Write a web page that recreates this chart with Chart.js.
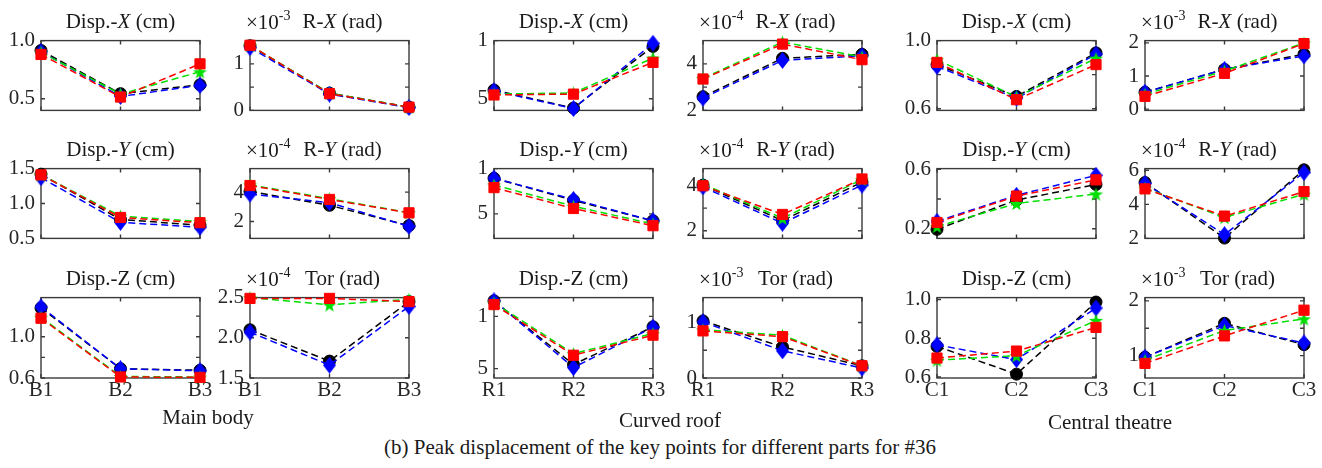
<!DOCTYPE html>
<html>
<head>
<meta charset="utf-8">
<script src="https://cdn.jsdelivr.net/npm/chart.js@4.4.1/dist/chart.umd.min.js"></script>
<style>
  body { margin: 0; width: 1322px; height: 468px; background: #fff; position: relative; overflow: hidden;
         font-family: "Liberation Serif", "Times New Roman", serif; color: #1a1a1a; }
  canvas { position: absolute; }
  .title, .group, .caption { position: absolute; white-space: nowrap; line-height: 1; transform: translate(-50%, -50%); }
  .title { font-size: 21px; }
  .exp { position: absolute; white-space: nowrap; line-height: 1; font-size: 21px; transform: translateY(-50%); }
  .exp sup { font-size: 14px; position: relative; top: -1px; }
  .group { font-size: 21px; }
  .caption { font-size: 21px; }
</style>
</head>
<body>
<script>
// x categories per part
const bodyLabels = ["B1", "B2", "B3"];
const roofLabels = ["R1", "R2", "R3"];
const theatreLabels = ["C1", "C2", "C3"];
const groupNames = ["Main body", "Curved roof", "Central theatre"];
const caption = "(b) Peak displacement of the key points for different parts for #36";

// every panel: [black circle, blue diamond, green star, red square]
const bodyDispX = [[0.915, 0.544, 0.62], [0.905, 0.52, 0.615], [0.90, 0.54, 0.732], [0.881, 0.515, 0.80]];
const bodyRX    = [[1.39, 0.37, 0.07], [1.35, 0.35, 0.06], [1.40, 0.37, 0.07], [1.40, 0.36, 0.07]];
const bodyDispY = [[1.42, 0.77, 0.69], [1.37, 0.73, 0.66], [1.41, 0.82, 0.74], [1.41, 0.80, 0.725]];
const bodyRY    = [[4.05, 3.10, 1.72], [3.87, 3.28, 1.67], [4.50, 3.55, 2.60], [4.45, 3.50, 2.59]];
const bodyDispZ = [[1.28, 0.69, 0.675], [1.29, 0.69, 0.67], [1.19, 0.615, 0.61], [1.18, 0.61, 0.606]];
const bodyTor   = [[2.10, 1.71, 2.45], [2.07, 1.66, 2.39], [2.50, 2.41, 2.48], [2.49, 2.49, 2.45]];

const roofDispX = [[0.575, 0.42, 0.95], [0.568, 0.416, 0.977], [0.54, 0.55, 0.85], [0.533, 0.54, 0.813]];
const roofRX    = [[2.59, 4.24, 4.41], [2.53, 4.15, 4.35], [3.38, 4.94, 4.30], [3.35, 4.85, 4.18]];
const roofDispY = [[0.894, 0.65, 0.424], [0.894, 0.66, 0.424], [0.82, 0.585, 0.39], [0.79, 0.56, 0.37]];
const roofRY    = [[4.02, 2.45, 4.15], [3.94, 2.33, 4.02], [4.06, 2.55, 4.27], [3.99, 2.72, 4.29]];
const roofDispZ = [[1.149, 0.539, 0.90], [1.149, 0.51, 0.896], [1.13, 0.643, 0.836], [1.113, 0.628, 0.82]];
const roofTor   = [[1.03, 0.56, 0.22], [1.01, 0.49, 0.18], [0.87, 0.77, 0.22], [0.85, 0.746, 0.22]];

const theatreDispX = [[0.859, 0.672, 0.928], [0.848, 0.661, 0.92], [0.888, 0.669, 0.896], [0.872, 0.653, 0.859]];
const theatreRX    = [[0.51, 1.20, 1.66], [0.51, 1.20, 1.61], [0.45, 1.15, 2.00], [0.385, 1.08, 1.98]];
const theatreDispY = [[0.196, 0.393, 0.498], [0.25, 0.425, 0.56], [0.215, 0.37, 0.434], [0.242, 0.42, 0.529]];
const theatreRY    = [[5.28, 2.02, 6.03], [5.23, 2.22, 5.87], [4.96, 3.23, 4.60], [4.91, 3.31, 4.75]];
const theatreDispZ = [[0.758, 0.615, 0.987], [0.766, 0.69, 0.956], [0.687, 0.71, 0.892], [0.698, 0.734, 0.856]];
const theatreTor   = [[0.97, 1.59, 1.20], [0.97, 1.55, 1.23], [0.914, 1.46, 1.67], [0.857, 1.36, 1.83]];

// panels row by row, left to right
const panelData = [
  bodyDispX, bodyRX, roofDispX, roofRX, theatreDispX, theatreRX,
  bodyDispY, bodyRY, roofDispY, roofRY, theatreDispY, theatreRY,
  bodyDispZ, bodyTor, roofDispZ, roofTor, theatreDispZ, theatreTor
];
const panelTitles = [
  "Disp.-<i>X</i> (cm)", "R-<i>X</i> (rad)", "Disp.-<i>X</i> (cm)", "R-<i>X</i> (rad)", "Disp.-<i>X</i> (cm)", "R-<i>X</i> (rad)",
  "Disp.-<i>Y</i> (cm)", "R-<i>Y</i> (rad)", "Disp.-<i>Y</i> (cm)", "R-<i>Y</i> (rad)", "Disp.-<i>Y</i> (cm)", "R-<i>Y</i> (rad)",
  "Disp.-Z (cm)", "Tor (rad)", "Disp.-Z (cm)", "Tor (rad)", "Disp.-Z (cm)", "Tor (rad)"
];
const panelExp = ["", "-3", "", "-4", "", "-3",
                  "", "-4", "", "-4", "", "-4",
                  "", "-4", "", "-3", "", "-3"];
const yMin = [0.4, 0, 0.4, 2, 0.59, -0.04,
              0.5, 0.85, 0.23, 1.66, 0.135, 2.0,
              0.6, 1.5, 0.41, 0, 0.595, 0.59];
const yMax = [1.0, 1.5, 1.0, 5, 1.0, 2.07,
              1.5, 5.6, 1.0, 4.75, 0.605, 6.1,
              1.38, 2.5, 1.18, 1.45, 1.01, 2.06];
const yTickVals = [
  [0.5, 1.0], [0, 0.5, 1], [0.5, 1], [2, 3, 4], [0.6, 0.8, 1.0], [0, 1, 2],
  [0.5, 1, 1.5], [2, 4], [0.5, 1], [2, 3, 4], [0.2, 0.4, 0.6], [2, 4, 6],
  [0.6, 0.8, 1.0, 1.2], [1.5, 2, 2.5], [0.5, 1], [0, 0.5, 1], [0.6, 0.8, 1.0], [1, 1.5, 2]
];
const yTickText = [
  ["0.5", "1.0"], ["0", "", "1"], ["5", "1"], ["2", "", "4"], ["0.6", "", "1.0"], ["0", "1", "2"],
  ["0.5", "1.0", "1.5"], ["2", "4"], ["5", "1"], ["2", "", "4"], ["0.2", "", "0.6"], ["2", "4", "6"],
  ["0.6", "", "1.0", ""], ["1.5", "2.0", "2.5"], ["5", "1"], ["0", "", "1"], ["0.6", "0.8", "1.0"], ["1", "", "2"]
];

// layout
const colLeft = [41, 250, 494, 703, 937, 1145];
const rowTop = [34, 162, 291];
const boxW = 159, boxH = 87;
const padL = 45, padT = 12, padR = 14;
const ink = "#262626";
const font = '"Liberation Serif", "Times New Roman", serif';

function markerCanvas(w, h, color, draw) {
  const c = document.createElement("canvas");
  c.width = w; c.height = h;
  const g = c.getContext("2d");
  g.fillStyle = color;
  g.beginPath();
  draw(g, w, h);
  g.closePath();
  g.fill();
  return c;
}
const diamond = markerCanvas(13, 17, "#0000ff", (g, w, h) => {
  g.moveTo(w / 2, 0); g.lineTo(w, h / 2); g.lineTo(w / 2, h); g.lineTo(0, h / 2);
});
const star = markerCanvas(15, 15, "#00e000", (g, w, h) => {
  const cx = w / 2, cy = h / 2 + 0.8, R = 7.3, r = 3;
  for (let i = 0; i < 10; i++) {
    const a = -Math.PI / 2 + i * Math.PI / 5;
    const rr = i % 2 ? r : R;
    g.lineTo(cx + rr * Math.cos(a), cy + rr * Math.sin(a));
  }
});

const series = [
  { color: "#000000", style: "circle", radius: 6 },
  { color: "#0000ff", style: diamond, radius: 7 },
  { color: "#00e000", style: star, radius: 7 },
  { color: "#ff0000", style: "rect", radius: 7.2 }
];

const boxPlugin = {
  id: "box",
  beforeDatasetsDraw(chart) {
    const { ctx, chartArea: a, scales: { x, y } } = chart;
    ctx.save();
    ctx.strokeStyle = "#3a3a3a";
    ctx.lineWidth = 1.4;
    ctx.strokeRect(a.left, a.top, a.width, a.height);
    ctx.beginPath();
    y.ticks.forEach(t => {
      const p = y.getPixelForValue(t.value);
      ctx.moveTo(a.left, p); ctx.lineTo(a.left + 4, p);
      ctx.moveTo(a.right, p); ctx.lineTo(a.right - 4, p);
    });
    x.ticks.forEach((t, i) => {
      const p = x.getPixelForTick(i);
      ctx.moveTo(p, a.bottom); ctx.lineTo(p, a.bottom - 4);
      ctx.moveTo(p, a.top); ctx.lineTo(p, a.top + 4);
    });
    ctx.stroke();
    ctx.restore();
  }
};

function addText(cls, html, x, y) {
  const d = document.createElement("div");
  d.className = cls;
  d.innerHTML = html;
  d.style.left = x + "px";
  d.style.top = y + "px";
  document.body.appendChild(d);
}

panelData.forEach((data, i) => {
  const row = Math.floor(i / 6), col = i % 6;
  const labels = [bodyLabels, roofLabels, theatreLabels][Math.floor(col / 2)];
  const showX = row === 2;
  const padB = showX ? 30 : 8;

  const cv = document.createElement("canvas");
  cv.width = padL + boxW + padR;
  cv.height = padT + boxH + padB;
  cv.style.left = (colLeft[col] - padL) + "px";
  cv.style.top = (rowTop[row] - padT) + "px";
  document.body.appendChild(cv);

  new Chart(cv, {
    type: "line",
    data: {
      labels,
      datasets: data.map((vals, s) => ({
        data: vals,
        borderColor: series[s].color,
        backgroundColor: series[s].color,
        borderWidth: 1.5,
        borderDash: [7, 4],
        pointStyle: series[s].style,
        pointRadius: series[s].radius,
        pointBorderWidth: 1,
        pointBorderColor: series[s].color,
        pointBackgroundColor: series[s].color,
        tension: 0,
        fill: false,
        clip: false,
        order: 4 - s
      }))
    },
    options: {
      responsive: false,
      animation: false,
      events: [],
      layout: { autoPadding: false, padding: { left: 0, top: padT, right: padR, bottom: 0 } },
      plugins: { legend: { display: false }, tooltip: { enabled: false }, title: { display: false } },
      scales: {
        x: {
          type: "category",
          grid: { display: false, drawTicks: false },
          border: { display: false },
          ticks: {
            display: showX, color: ink, padding: 0, maxRotation: 0, autoSkip: false,
            font: { family: font, size: 21 }
          },
          afterFit: s => { s.height = padB; }
        },
        y: {
          min: yMin[i],
          max: yMax[i],
          grid: { display: false, drawTicks: false },
          border: { display: false },
          afterBuildTicks: s => { s.ticks = yTickVals[i].map(v => ({ value: v })); },
          ticks: {
            color: ink, padding: 6, autoSkip: false,
            font: { family: font, size: 21 },
            callback: (v, k) => yTickText[i][k]
          },
          afterFit: s => { s.width = padL; }
        }
      }
    },
    plugins: [boxPlugin]
  });

  const ty = rowTop[row] - 13;
  const tx = colLeft[col] + boxW / 2 + (col % 2 ? 13 : 0);
  addText("title", panelTitles[i], tx, ty);
  if (panelExp[i]) addText("exp", "×10<sup>" + panelExp[i] + "</sup>", colLeft[col] - 4, ty);
});

addText("group", groupNames[0], 208, 417);
addText("group", groupNames[1], 670, 420);
addText("group", groupNames[2], 1110, 422);
addText("caption", caption, 660, 447);
</script>
</body>
</html>
